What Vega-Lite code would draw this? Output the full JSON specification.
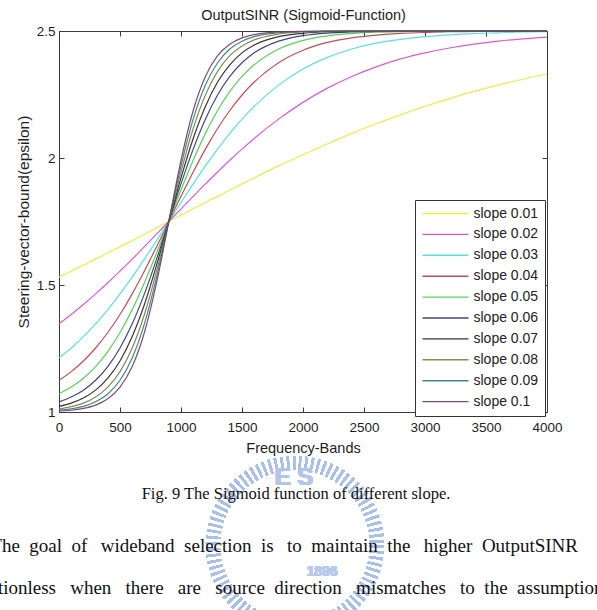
{
  "$schema": "https://vega.github.io/schema/vega-lite/v6.json",
  "autosize": {"type": "none"},
  "width": 488,
  "height": 381,
  "padding": {"left": 59, "top": 31, "right": 50, "bottom": 198},
  "background": "white",
  "config": {
    "font": "Liberation Sans",
    "view": {"stroke": null},
    "axis": {
      "grid": false,
      "domainColor": "#3a3a3a",
      "tickColor": "#3a3a3a",
      "domainWidth": 1,
      "tickWidth": 1,
      "tickSize": -5,
      "labelFont": "Liberation Sans",
      "labelFontSize": 13.5,
      "labelColor": "#1e1e1e",
      "labelFlush": false,
      "labelOverlap": false,
      "titleFont": "Liberation Sans",
      "titleFontSize": 14.5,
      "titleFontWeight": "normal",
      "titleColor": "#1e1e1e"
    }
  },
  "title": {
    "text": "Fig. 9 The Sigmoid function of different slope.",
    "subtitle": [
      "The\u00a0 goal\u00a0 of\u00a0\u2009 wideband\u00a0 selection\u00a0 is\u00a0\u2009 to\u00a0 maintain\u00a0 the\u00a0\u2009 higher\u00a0 OutputSINR\u00a0\u00a0\u00a0\u00a0\u00a0\u200d",
      "\u200d\u00a0\u00a0tionless\u00a0\u00a0 when\u00a0\u00a0 there\u00a0\u00a0 are\u00a0\u00a0 source\u00a0 direction\u00a0\u00a0 mismatches\u00a0\u00a0 to\u00a0 the\u00a0 assumption"
    ],
    "orient": "bottom",
    "anchor": "middle",
    "frame": "group",
    "offset": -169,
    "dx": -7,
    "font": "Liberation Serif",
    "fontSize": 16.5,
    "fontWeight": "normal",
    "color": "#111111",
    "subtitleFont": "Liberation Serif",
    "subtitleFontSize": 19,
    "subtitleColor": "#111111",
    "subtitlePadding": 34,
    "subtitleLineHeight": 42
  },
  "data": {
    "values": [
      {"x": 0, "s": "slope 0.01", "y": 1.531}, {"x": 100, "s": "slope 0.01", "y": 1.555}, {"x": 200, "s": "slope 0.01", "y": 1.578}, {"x": 300, "s": "slope 0.01", "y": 1.602}, {"x": 400, "s": "slope 0.01", "y": 1.626}, {"x": 500, "s": "slope 0.01", "y": 1.651}, {"x": 600, "s": "slope 0.01", "y": 1.675}, {"x": 700, "s": "slope 0.01", "y": 1.7}, {"x": 800, "s": "slope 0.01", "y": 1.725}, {"x": 900, "s": "slope 0.01", "y": 1.75}, {"x": 1000, "s": "slope 0.01", "y": 1.775}, {"x": 1100, "s": "slope 0.01", "y": 1.8}, {"x": 1200, "s": "slope 0.01", "y": 1.825}, {"x": 1300, "s": "slope 0.01", "y": 1.849}, {"x": 1400, "s": "slope 0.01", "y": 1.874}, {"x": 1500, "s": "slope 0.01", "y": 1.898}, {"x": 1600, "s": "slope 0.01", "y": 1.922}, {"x": 1800, "s": "slope 0.01", "y": 1.969}, {"x": 2000, "s": "slope 0.01", "y": 2.013}, {"x": 2200, "s": "slope 0.01", "y": 2.056}, {"x": 2400, "s": "slope 0.01", "y": 2.097}, {"x": 2600, "s": "slope 0.01", "y": 2.135}, {"x": 2800, "s": "slope 0.01", "y": 2.17}, {"x": 3000, "s": "slope 0.01", "y": 2.203}, {"x": 3200, "s": "slope 0.01", "y": 2.234}, {"x": 3400, "s": "slope 0.01", "y": 2.262}, {"x": 3600, "s": "slope 0.01", "y": 2.287}, {"x": 3800, "s": "slope 0.01", "y": 2.31}, {"x": 4000, "s": "slope 0.01", "y": 2.331},

      {"x": 0, "s": "slope 0.02", "y": 1.347}, {"x": 100, "s": "slope 0.02", "y": 1.384}, {"x": 200, "s": "slope 0.02", "y": 1.423}, {"x": 300, "s": "slope 0.02", "y": 1.465}, {"x": 400, "s": "slope 0.02", "y": 1.509}, {"x": 500, "s": "slope 0.02", "y": 1.555}, {"x": 600, "s": "slope 0.02", "y": 1.602}, {"x": 700, "s": "slope 0.02", "y": 1.651}, {"x": 800, "s": "slope 0.02", "y": 1.7}, {"x": 900, "s": "slope 0.02", "y": 1.75}, {"x": 1000, "s": "slope 0.02", "y": 1.8}, {"x": 1100, "s": "slope 0.02", "y": 1.849}, {"x": 1200, "s": "slope 0.02", "y": 1.898}, {"x": 1300, "s": "slope 0.02", "y": 1.945}, {"x": 1400, "s": "slope 0.02", "y": 1.991}, {"x": 1500, "s": "slope 0.02", "y": 2.035}, {"x": 1600, "s": "slope 0.02", "y": 2.077}, {"x": 1800, "s": "slope 0.02", "y": 2.153}, {"x": 2000, "s": "slope 0.02", "y": 2.219}, {"x": 2200, "s": "slope 0.02", "y": 2.275}, {"x": 2400, "s": "slope 0.02", "y": 2.321}, {"x": 2600, "s": "slope 0.02", "y": 2.359}, {"x": 2800, "s": "slope 0.02", "y": 2.39}, {"x": 3000, "s": "slope 0.02", "y": 2.414}, {"x": 3200, "s": "slope 0.02", "y": 2.433}, {"x": 3400, "s": "slope 0.02", "y": 2.448}, {"x": 3600, "s": "slope 0.02", "y": 2.46}, {"x": 3800, "s": "slope 0.02", "y": 2.469}, {"x": 4000, "s": "slope 0.02", "y": 2.476},

      {"x": 0, "s": "slope 0.03", "y": 1.213}, {"x": 100, "s": "slope 0.03", "y": 1.252}, {"x": 200, "s": "slope 0.03", "y": 1.297}, {"x": 300, "s": "slope 0.03", "y": 1.347}, {"x": 400, "s": "slope 0.03", "y": 1.403}, {"x": 500, "s": "slope 0.03", "y": 1.465}, {"x": 600, "s": "slope 0.03", "y": 1.531}, {"x": 700, "s": "slope 0.03", "y": 1.602}, {"x": 800, "s": "slope 0.03", "y": 1.675}, {"x": 900, "s": "slope 0.03", "y": 1.75}, {"x": 1000, "s": "slope 0.03", "y": 1.825}, {"x": 1100, "s": "slope 0.03", "y": 1.898}, {"x": 1200, "s": "slope 0.03", "y": 1.969}, {"x": 1300, "s": "slope 0.03", "y": 2.035}, {"x": 1400, "s": "slope 0.03", "y": 2.097}, {"x": 1500, "s": "slope 0.03", "y": 2.153}, {"x": 1600, "s": "slope 0.03", "y": 2.203}, {"x": 1800, "s": "slope 0.03", "y": 2.287}, {"x": 2000, "s": "slope 0.03", "y": 2.35}, {"x": 2200, "s": "slope 0.03", "y": 2.396}, {"x": 2400, "s": "slope 0.03", "y": 2.429}, {"x": 2600, "s": "slope 0.03", "y": 2.452}, {"x": 2800, "s": "slope 0.03", "y": 2.467}, {"x": 3000, "s": "slope 0.03", "y": 2.478}, {"x": 3200, "s": "slope 0.03", "y": 2.485}, {"x": 3400, "s": "slope 0.03", "y": 2.49}, {"x": 3600, "s": "slope 0.03", "y": 2.493}, {"x": 3800, "s": "slope 0.03", "y": 2.496}, {"x": 4000, "s": "slope 0.03", "y": 2.497},

      {"x": 0, "s": "slope 0.04", "y": 1.125}, {"x": 100, "s": "slope 0.04", "y": 1.159}, {"x": 200, "s": "slope 0.04", "y": 1.201}, {"x": 300, "s": "slope 0.04", "y": 1.252}, {"x": 400, "s": "slope 0.04", "y": 1.313}, {"x": 500, "s": "slope 0.04", "y": 1.384}, {"x": 600, "s": "slope 0.04", "y": 1.465}, {"x": 700, "s": "slope 0.04", "y": 1.555}, {"x": 800, "s": "slope 0.04", "y": 1.651}, {"x": 900, "s": "slope 0.04", "y": 1.75}, {"x": 1000, "s": "slope 0.04", "y": 1.849}, {"x": 1100, "s": "slope 0.04", "y": 1.945}, {"x": 1200, "s": "slope 0.04", "y": 2.035}, {"x": 1300, "s": "slope 0.04", "y": 2.116}, {"x": 1400, "s": "slope 0.04", "y": 2.187}, {"x": 1500, "s": "slope 0.04", "y": 2.248}, {"x": 1600, "s": "slope 0.04", "y": 2.299}, {"x": 1800, "s": "slope 0.04", "y": 2.375}, {"x": 2000, "s": "slope 0.04", "y": 2.424}, {"x": 2200, "s": "slope 0.04", "y": 2.455}, {"x": 2400, "s": "slope 0.04", "y": 2.473}, {"x": 2600, "s": "slope 0.04", "y": 2.484}, {"x": 2800, "s": "slope 0.04", "y": 2.491}, {"x": 3000, "s": "slope 0.04", "y": 2.494}, {"x": 3200, "s": "slope 0.04", "y": 2.497}, {"x": 3400, "s": "slope 0.04", "y": 2.498}, {"x": 3600, "s": "slope 0.04", "y": 2.499}, {"x": 3800, "s": "slope 0.04", "y": 2.499}, {"x": 4000, "s": "slope 0.04", "y": 2.5},

      {"x": 0, "s": "slope 0.05", "y": 1.071}, {"x": 100, "s": "slope 0.05", "y": 1.098}, {"x": 200, "s": "slope 0.05", "y": 1.133}, {"x": 300, "s": "slope 0.05", "y": 1.179}, {"x": 400, "s": "slope 0.05", "y": 1.238}, {"x": 500, "s": "slope 0.05", "y": 1.313}, {"x": 600, "s": "slope 0.05", "y": 1.403}, {"x": 700, "s": "slope 0.05", "y": 1.509}, {"x": 800, "s": "slope 0.05", "y": 1.626}, {"x": 900, "s": "slope 0.05", "y": 1.75}, {"x": 1000, "s": "slope 0.05", "y": 1.874}, {"x": 1100, "s": "slope 0.05", "y": 1.991}, {"x": 1200, "s": "slope 0.05", "y": 2.097}, {"x": 1300, "s": "slope 0.05", "y": 2.187}, {"x": 1400, "s": "slope 0.05", "y": 2.262}, {"x": 1500, "s": "slope 0.05", "y": 2.321}, {"x": 1600, "s": "slope 0.05", "y": 2.367}, {"x": 1800, "s": "slope 0.05", "y": 2.429}, {"x": 2000, "s": "slope 0.05", "y": 2.463}, {"x": 2200, "s": "slope 0.05", "y": 2.481}, {"x": 2400, "s": "slope 0.05", "y": 2.49}, {"x": 2600, "s": "slope 0.05", "y": 2.495}, {"x": 2800, "s": "slope 0.05", "y": 2.497}, {"x": 3000, "s": "slope 0.05", "y": 2.499}, {"x": 3400, "s": "slope 0.05", "y": 2.5}, {"x": 4000, "s": "slope 0.05", "y": 2.5},

      {"x": 0, "s": "slope 0.06", "y": 1.04}, {"x": 100, "s": "slope 0.06", "y": 1.059}, {"x": 200, "s": "slope 0.06", "y": 1.086}, {"x": 300, "s": "slope 0.06", "y": 1.125}, {"x": 400, "s": "slope 0.06", "y": 1.179}, {"x": 500, "s": "slope 0.06", "y": 1.252}, {"x": 600, "s": "slope 0.06", "y": 1.347}, {"x": 700, "s": "slope 0.06", "y": 1.465}, {"x": 800, "s": "slope 0.06", "y": 1.602}, {"x": 900, "s": "slope 0.06", "y": 1.75}, {"x": 1000, "s": "slope 0.06", "y": 1.898}, {"x": 1100, "s": "slope 0.06", "y": 2.035}, {"x": 1200, "s": "slope 0.06", "y": 2.153}, {"x": 1300, "s": "slope 0.06", "y": 2.248}, {"x": 1400, "s": "slope 0.06", "y": 2.321}, {"x": 1500, "s": "slope 0.06", "y": 2.375}, {"x": 1600, "s": "slope 0.06", "y": 2.414}, {"x": 1800, "s": "slope 0.06", "y": 2.46}, {"x": 2000, "s": "slope 0.06", "y": 2.482}, {"x": 2200, "s": "slope 0.06", "y": 2.492}, {"x": 2400, "s": "slope 0.06", "y": 2.496}, {"x": 2600, "s": "slope 0.06", "y": 2.498}, {"x": 2800, "s": "slope 0.06", "y": 2.499}, {"x": 3000, "s": "slope 0.06", "y": 2.5}, {"x": 4000, "s": "slope 0.06", "y": 2.5},

      {"x": 0, "s": "slope 0.07", "y": 1.022}, {"x": 100, "s": "slope 0.07", "y": 1.035}, {"x": 200, "s": "slope 0.07", "y": 1.055}, {"x": 300, "s": "slope 0.07", "y": 1.086}, {"x": 400, "s": "slope 0.07", "y": 1.133}, {"x": 500, "s": "slope 0.07", "y": 1.201}, {"x": 600, "s": "slope 0.07", "y": 1.297}, {"x": 700, "s": "slope 0.07", "y": 1.423}, {"x": 800, "s": "slope 0.07", "y": 1.578}, {"x": 900, "s": "slope 0.07", "y": 1.75}, {"x": 1000, "s": "slope 0.07", "y": 1.922}, {"x": 1100, "s": "slope 0.07", "y": 2.077}, {"x": 1200, "s": "slope 0.07", "y": 2.203}, {"x": 1300, "s": "slope 0.07", "y": 2.299}, {"x": 1400, "s": "slope 0.07", "y": 2.367}, {"x": 1500, "s": "slope 0.07", "y": 2.414}, {"x": 1600, "s": "slope 0.07", "y": 2.445}, {"x": 1800, "s": "slope 0.07", "y": 2.478}, {"x": 2000, "s": "slope 0.07", "y": 2.491}, {"x": 2200, "s": "slope 0.07", "y": 2.497}, {"x": 2400, "s": "slope 0.07", "y": 2.499}, {"x": 2600, "s": "slope 0.07", "y": 2.5}, {"x": 4000, "s": "slope 0.07", "y": 2.5},

      {"x": 0, "s": "slope 0.08", "y": 1.012}, {"x": 100, "s": "slope 0.08", "y": 1.021}, {"x": 200, "s": "slope 0.08", "y": 1.035}, {"x": 300, "s": "slope 0.08", "y": 1.059}, {"x": 400, "s": "slope 0.08", "y": 1.098}, {"x": 500, "s": "slope 0.08", "y": 1.159}, {"x": 600, "s": "slope 0.08", "y": 1.252}, {"x": 700, "s": "slope 0.08", "y": 1.384}, {"x": 800, "s": "slope 0.08", "y": 1.555}, {"x": 900, "s": "slope 0.08", "y": 1.75}, {"x": 1000, "s": "slope 0.08", "y": 1.945}, {"x": 1100, "s": "slope 0.08", "y": 2.116}, {"x": 1200, "s": "slope 0.08", "y": 2.248}, {"x": 1300, "s": "slope 0.08", "y": 2.341}, {"x": 1400, "s": "slope 0.08", "y": 2.403}, {"x": 1500, "s": "slope 0.08", "y": 2.441}, {"x": 1600, "s": "slope 0.08", "y": 2.465}, {"x": 1800, "s": "slope 0.08", "y": 2.488}, {"x": 2000, "s": "slope 0.08", "y": 2.496}, {"x": 2200, "s": "slope 0.08", "y": 2.499}, {"x": 2400, "s": "slope 0.08", "y": 2.5}, {"x": 4000, "s": "slope 0.08", "y": 2.5},

      {"x": 0, "s": "slope 0.09", "y": 1.007}, {"x": 100, "s": "slope 0.09", "y": 1.012}, {"x": 200, "s": "slope 0.09", "y": 1.022}, {"x": 300, "s": "slope 0.09", "y": 1.04}, {"x": 400, "s": "slope 0.09", "y": 1.071}, {"x": 500, "s": "slope 0.09", "y": 1.125}, {"x": 600, "s": "slope 0.09", "y": 1.213}, {"x": 700, "s": "slope 0.09", "y": 1.347}, {"x": 800, "s": "slope 0.09", "y": 1.531}, {"x": 900, "s": "slope 0.09", "y": 1.75}, {"x": 1000, "s": "slope 0.09", "y": 1.969}, {"x": 1100, "s": "slope 0.09", "y": 2.153}, {"x": 1200, "s": "slope 0.09", "y": 2.287}, {"x": 1300, "s": "slope 0.09", "y": 2.375}, {"x": 1400, "s": "slope 0.09", "y": 2.429}, {"x": 1500, "s": "slope 0.09", "y": 2.46}, {"x": 1600, "s": "slope 0.09", "y": 2.478}, {"x": 1800, "s": "slope 0.09", "y": 2.493}, {"x": 2000, "s": "slope 0.09", "y": 2.498}, {"x": 2200, "s": "slope 0.09", "y": 2.5}, {"x": 4000, "s": "slope 0.09", "y": 2.5},

      {"x": 0, "s": "slope 0.1", "y": 1.004}, {"x": 100, "s": "slope 0.1", "y": 1.007}, {"x": 200, "s": "slope 0.1", "y": 1.014}, {"x": 300, "s": "slope 0.1", "y": 1.027}, {"x": 400, "s": "slope 0.1", "y": 1.052}, {"x": 500, "s": "slope 0.1", "y": 1.098}, {"x": 600, "s": "slope 0.1", "y": 1.179}, {"x": 700, "s": "slope 0.1", "y": 1.313}, {"x": 800, "s": "slope 0.1", "y": 1.509}, {"x": 900, "s": "slope 0.1", "y": 1.75}, {"x": 1000, "s": "slope 0.1", "y": 1.991}, {"x": 1100, "s": "slope 0.1", "y": 2.187}, {"x": 1200, "s": "slope 0.1", "y": 2.321}, {"x": 1300, "s": "slope 0.1", "y": 2.403}, {"x": 1400, "s": "slope 0.1", "y": 2.448}, {"x": 1500, "s": "slope 0.1", "y": 2.473}, {"x": 1600, "s": "slope 0.1", "y": 2.486}, {"x": 1800, "s": "slope 0.1", "y": 2.496}, {"x": 2000, "s": "slope 0.1", "y": 2.499}, {"x": 2200, "s": "slope 0.1", "y": 2.5}, {"x": 4000, "s": "slope 0.1", "y": 2.5}
    ]
  },
  "layer": [
    {
      "mark": {"type": "point", "shape": "circle", "filled": false, "size": 26896, "strokeWidth": 14, "strokeDash": [2, 4], "color": "#aabfe8", "opacity": 0.75},
      "encoding": {
        "x": {"datum": 1934, "type": "quantitative", "axis": null},
        "y": {"datum": 0.476, "type": "quantitative", "axis": null}
      }
    },
    {
      "mark": {"type": "text", "text": "E S", "font": "Liberation Sans", "fontSize": 24, "fontWeight": "bold", "color": "#b3c5ea"},
      "encoding": {
        "x": {"datum": 1926, "type": "quantitative", "axis": null},
        "y": {"datum": 0.74, "type": "quantitative", "axis": null}
      }
    },
    {
      "mark": {"type": "text", "text": "1896", "font": "Liberation Sans", "fontSize": 14, "fontWeight": "bold", "color": "#b8c9ec"},
      "encoding": {
        "x": {"datum": 2156, "type": "quantitative", "axis": null},
        "y": {"datum": 0.37, "type": "quantitative", "axis": null}
      }
    },
    {
      "mark": {"type": "line", "interpolate": "monotone", "strokeWidth": 1.2, "opacity": 0.92},
      "encoding": {
        "x": {
          "field": "x", "type": "quantitative",
          "scale": {"domain": [0, 4000], "nice": false, "zero": false},
          "axis": {
            "orient": "bottom",
            "values": [0, 500, 1000, 1500, 2000, 2500, 3000, 3500, 4000],
            "format": "d",
            "labelPadding": 13,
            "title": "Frequency-Bands",
            "titlePadding": 8
          }
        },
        "y": {
          "field": "y", "type": "quantitative",
          "scale": {"domain": [1, 2.5], "nice": false, "zero": false},
          "axis": {
            "orient": "left",
            "values": [1, 1.5, 2, 2.5],
            "format": "~g",
            "labelPadding": 9,
            "title": "Steering-vector-bound(epsilon)",
            "titleFontSize": 15.5,
            "titlePadding": 5
          }
        },
        "color": {
          "field": "s", "type": "nominal",
          "scale": {
            "domain": ["slope 0.01", "slope 0.02", "slope 0.03", "slope 0.04", "slope 0.05", "slope 0.06", "slope 0.07", "slope 0.08", "slope 0.09", "slope 0.1"],
            "range": ["#eaea3c", "#d04fd0", "#4fdcdc", "#b8404c", "#4ccc4c", "#363676", "#262626", "#7e7e4e", "#2f7f7f", "#7a3c66"]
          },
          "legend": {
            "title": null,
            "orient": "none",
            "legendX": 356,
            "legendY": 169,
            "direction": "vertical",
            "symbolType": "stroke",
            "symbolSize": 2116,
            "symbolStrokeWidth": 1.4,
            "clipHeight": 14,
            "rowPadding": 6.9,
            "padding": 6.5,
            "labelOffset": 4,
            "labelFont": "Liberation Sans",
            "labelFontSize": 14,
            "labelColor": "#222222",
            "strokeColor": "#333333",
            "fillColor": "white"
          }
        }
      }
    },
    {
      "mark": {"type": "rule", "opacity": 0},
      "encoding": {
        "x": {
          "datum": 0, "type": "quantitative",
          "axis": {
            "orient": "top",
            "values": [0, 500, 1000, 1500, 2000, 2500, 3000, 3500, 4000],
            "labels": false,
            "title": "OutputSINR (Sigmoid-Function)",
            "titlePadding": 8
          }
        },
        "y": {
          "datum": 1, "type": "quantitative",
          "axis": {
            "orient": "right",
            "values": [1, 1.5, 2, 2.5],
            "labels": false,
            "title": null
          }
        }
      }
    }
  ],
  "resolve": {"axis": {"x": "independent", "y": "independent"}}
}
